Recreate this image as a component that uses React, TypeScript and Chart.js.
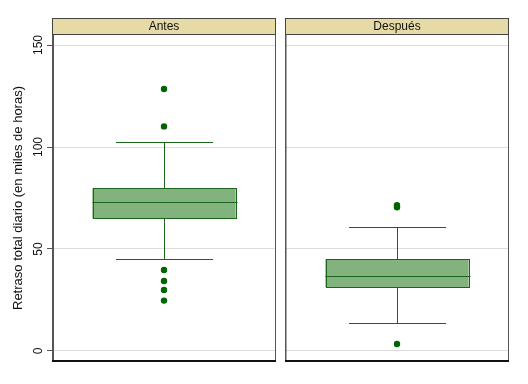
import React, { useEffect, useRef } from "react";
import { Chart, registerables } from "chart.js";

Chart.register(...registerables);

// ---- Data ----
const panels = ["Antes", "Después"];
const q1 = [65.0, 31.2];
const medians = [72.9, 36.6];
const q3 = [79.8, 45.0];
const lowerWhiskers = [44.9, 13.6];
const upperWhiskers = [102.3, 60.6];
const outliersAntes = [128.4, 110.1, 39.7, 34.3, 29.9, 24.7];
const outliersDespues = [71.5, 70.5, 3.4];
const yTicks = [0, 50, 100, 150];
const yTitle = "Retraso total diario (en miles de horas)";

const FONT = "'Liberation Sans', Arial, Helvetica, sans-serif";
const GREEN_DARK = "#1a651a";
const GREEN_FILL = "#82b27e";
const DOT = "#006400";
const STRIP = "#e6dba6";

const px = (v: number) => Math.round(v) + 0.5;

function makePlugin(idx: number, isLeft: boolean) {
  return {
    id: "boxextras" + idx,
    afterDatasetsDraw(chart: any) {
      const ctx = chart.ctx;
      const y = chart.scales.y;
      const x = chart.scales.x;
      const meta = chart.getDatasetMeta(0);
      const bar = meta.data[0];
      const cx = px(x.getPixelForValue(0));
      const half = bar.width / 2;
      const capHalf = half * 0.67;
      ctx.save();
      ctx.strokeStyle = GREEN_DARK;
      ctx.lineWidth = 1;
      // box outline
      const bl = px(cx - half);
      const br = px(cx + half);
      const bt = px(y.getPixelForValue(q3[idx]));
      const bb = px(y.getPixelForValue(q1[idx]));
      ctx.strokeRect(bl, bt, br - bl, bb - bt);
      // whiskers
      const yu = px(y.getPixelForValue(upperWhiskers[idx]));
      const yl = px(y.getPixelForValue(lowerWhiskers[idx]));
      ctx.beginPath();
      ctx.moveTo(cx, bt);
      ctx.lineTo(cx, yu);
      ctx.moveTo(cx, bb);
      ctx.lineTo(cx, yl);
      ctx.stroke();
      // caps
      ctx.beginPath();
      ctx.moveTo(Math.round(cx - capHalf), yu);
      ctx.lineTo(Math.round(cx + capHalf), yu);
      ctx.moveTo(Math.round(cx - capHalf), yl);
      ctx.lineTo(Math.round(cx + capHalf), yl);
      ctx.stroke();
      // median
      const ym = px(y.getPixelForValue(medians[idx]));
      ctx.beginPath();
      ctx.moveTo(bl - 1, ym);
      ctx.lineTo(br + 1, ym);
      ctx.stroke();
      ctx.restore();
    },
    afterDraw(chart: any) {
      const ctx = chart.ctx;
      const a = chart.chartArea;
      const y = chart.scales.y;
      ctx.save();
      // panel border
      ctx.strokeStyle = "#555555";
      ctx.lineWidth = 1;
      ctx.strokeRect(a.left + 0.5, a.top + 0.5, a.right - a.left - 1, a.bottom - a.top - 1);
      if (isLeft) {
        ctx.lineWidth = 2;
        ctx.beginPath();
        ctx.moveTo(a.left + 1, a.top);
        ctx.lineTo(a.left + 1, a.bottom);
        ctx.stroke();
      } else {
        ctx.lineWidth = 1.5;
        ctx.beginPath();
        ctx.moveTo(a.left + 0.75, a.top);
        ctx.lineTo(a.left + 0.75, a.bottom);
        ctx.stroke();
      }
      ctx.strokeStyle = "#111111";
      ctx.lineWidth = 2;
      ctx.beginPath();
      ctx.moveTo(a.left, a.bottom - 1);
      ctx.lineTo(a.right, a.bottom - 1);
      ctx.stroke();
      // strip header
      const sTop = 18;
      const sH = a.top - sTop;
      ctx.fillStyle = STRIP;
      ctx.fillRect(a.left, sTop, a.right - a.left, sH);
      ctx.strokeStyle = "#444444";
      ctx.lineWidth = 1;
      ctx.strokeRect(a.left + 0.5, sTop + 0.5, a.right - a.left - 1, sH);
      ctx.fillStyle = "#111111";
      ctx.font = "12px " + FONT;
      ctx.textAlign = "center";
      ctx.textBaseline = "middle";
      ctx.fillText(panels[idx], (a.left + a.right) / 2, sTop + sH / 2 + 0.5);
      // rotated tick labels
      if (isLeft) {
        ctx.font = "12px " + FONT;
        ctx.fillStyle = "#111111";
        for (const t of yTicks) {
          const py = y.getPixelForValue(t);
          ctx.save();
          ctx.translate(a.left - 13, py);
          ctx.rotate(-Math.PI / 2);
          ctx.textAlign = "center";
          ctx.textBaseline = "middle";
          ctx.fillText(String(t), 0, 0);
          ctx.restore();
        }
      }
      ctx.restore();
    },
  };
}

function Panel({ idx, left, width }: { idx: number; left: number; width: number }) {
  const ref = useRef<HTMLCanvasElement>(null);
  useEffect(() => {
    if (!ref.current) return;
    const isLeft = idx === 0;
    const outs = idx === 0 ? outliersAntes : outliersDespues;
    const chart = new Chart(ref.current, {
      type: "bar",
      data: {
        labels: [panels[idx]],
        datasets: [
          {
            type: "bar",
            data: [[q1[idx], q3[idx]]] as any,
            backgroundColor: GREEN_FILL,
            borderWidth: 0,
            borderSkipped: false,
            barPercentage: 0.64,
            categoryPercentage: 1,
          } as any,
          {
            type: "line",
            data: outs.map((v) => ({ x: panels[idx], y: v })) as any,
            showLine: false,
            pointRadius: 3.2,
            pointBackgroundColor: DOT,
            pointBorderColor: DOT,
            pointBorderWidth: 0,
          } as any,
        ],
      },
      options: {
        responsive: false,
        animation: false,
        events: [],
        layout: {
          padding: isLeft
            ? { top: 34, bottom: 22, left: 0, right: 4 }
            : { top: 34, bottom: 22, left: 0, right: 19 },
        },
        plugins: { legend: { display: false }, tooltip: { enabled: false } },
        scales: {
          x: { type: "category", display: false },
          y: {
            min: -5.4,
            max: 155.4,
            afterBuildTicks: (s: any) => {
              s.ticks = yTicks.map((v) => ({ value: v }));
            },
            afterFit: (s: any) => {
              s.width = isLeft ? 52 : 5;
            },
            ticks: { display: false },
            grid: {
              color: "#dcdcdc",
              lineWidth: 1,
              drawTicks: isLeft,
              tickLength: 5,
              tickColor: "#555555",
            },
            border: { display: false },
            title: {
              display: isLeft,
              text: yTitle,
              font: { size: 13, family: FONT },
              color: "#111111",
              padding: { top: 11, bottom: 0 },
            },
          },
        },
      },
      plugins: [makePlugin(idx, isLeft) as any],
    });
    return () => chart.destroy();
  }, [idx]);
  return (
    <canvas
      ref={ref}
      width={width}
      height={384}
      style={{ position: "absolute", left, top: 0, width, height: 384 }}
    />
  );
}

export default function App() {
  return (
    <div style={{ position: "absolute", left: 0, top: 0, width: 528, height: 384, background: "#fff" }}>
      <Panel idx={0} left={0} width={280} />
      <Panel idx={1} left={280} width={248} />
    </div>
  );
}
